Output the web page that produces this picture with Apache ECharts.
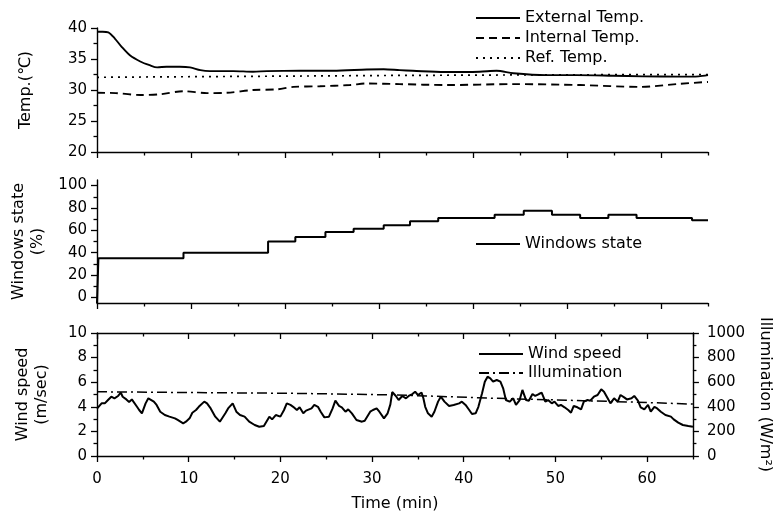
<!DOCTYPE html>
<html><head><meta charset="utf-8">
<script src="https://cdn.jsdelivr.net/npm/echarts@6/dist/echarts.min.js"></script>
<style>html,body{margin:0;padding:0;background:#fff}#c{width:783px;height:518px}</style>
</head><body><div id="c"></div>
<script>
// ---- data ----
const extTime = [0, 0.6, 1.2, 1.9, 2.6, 3.5, 4.6, 5.6, 6.4, 7.4, 8.8, 9.9, 11.0, 12.0, 14.5, 16.6, 18.1, 21.6, 25.1, 28.7, 30.5, 32.2, 33.6, 37.0, 40.7, 42.5, 44.3, 47.8, 51.0, 54.9, 58.0, 62.0, 64.0, 65.0];
const extTemp = [39.4, 39.4, 39.3, 38.3, 37.0, 35.6, 34.6, 34.0, 33.65, 33.75, 33.75, 33.65, 33.2, 33.05, 33.05, 32.95, 33.05, 33.1, 33.1, 33.3, 33.35, 33.2, 33.1, 32.9, 32.95, 33.1, 32.7, 32.4, 32.4, 32.3, 32.2, 32.15, 32.2, 32.4];
const intTime = [0, 2.0, 4.6, 6.7, 9.2, 11.7, 13.8, 16.6, 19.1, 20.9, 23.7, 26.9, 28.7, 32.2, 37.2, 44.3, 51.4, 57.8, 62.0, 65.0];
const intTemp = [29.55, 29.5, 29.2, 29.3, 29.8, 29.5, 29.55, 30.0, 30.1, 30.5, 30.6, 30.8, 31.05, 30.95, 30.8, 30.95, 30.8, 30.5, 31.0, 31.3];
const refTime = [0, 16, 32, 48, 65];
const refTemp = [32.05, 32.2, 32.35, 32.45, 32.5];
const winTime = [0, 0.15, 9.2, 18.2, 21.1, 24.3, 27.3, 30.5, 33.3, 36.3, 42.3, 45.4, 48.4, 51.4, 54.4, 57.4, 63.3, 65];
const winState = [-5, 35, 40, 50, 54, 58.5, 61.5, 64.5, 68, 71, 74, 77.5, 74, 71, 74, 71, 69, 69];
const windTime = [
  0, 0.5, 0.85, 1.2, 1.56, 1.9, 2.3, 2.6, 2.8, 3.2,
  3.5, 3.8, 4.0, 4.4, 4.6, 4.9, 5.3, 5.6, 5.8, 6.2,
  6.5, 6.9, 7.4, 7.9, 8.5, 8.8, 9.4, 9.7, 10.1, 10.4,
  10.8, 11.1, 11.7, 12.0, 12.4, 12.9, 13.4, 14.0, 14.3, 14.8,
  15.2, 15.6, 16.1, 16.6, 17.2, 17.7, 18.2, 18.8, 19.1, 19.5,
  20.0, 20.4, 20.7, 21.1, 21.4, 21.8, 22.1, 22.5, 22.8, 23.4,
  23.7, 24.1, 24.4, 24.8, 25.3, 25.7, 26.0, 26.4, 26.7, 27.1,
  27.4, 27.8, 28.3, 28.9, 29.2, 29.8, 30.1, 30.5, 30.8, 31.3,
  31.7, 32.0, 32.2, 32.6, 32.9, 33.3, 33.7, 34.0, 34.4, 34.7,
  35.0, 35.4, 35.6, 35.8, 36.1, 36.5, 36.8, 37.2, 37.5, 37.9,
  38.4, 38.9, 39.5, 39.8, 40.2, 40.6, 40.9, 41.3, 41.6, 42.0,
  42.3, 42.6, 42.9, 43.2, 43.6, 44.0, 44.3, 44.6, 45.0, 45.4,
  45.7, 46.1, 46.4, 46.8, 47.1, 47.5, 47.8, 48.2, 48.5, 48.9,
  49.2, 49.6, 49.9, 50.3, 50.6, 51.0, 51.4, 51.7, 52.0, 52.4,
  52.8, 53.1, 53.5, 53.8, 54.2, 54.6, 55.0, 55.3, 55.7, 56.0,
  56.4, 56.8, 57.1, 57.5, 57.8, 58.3, 58.6, 59.0, 59.3, 59.7,
  60.1, 60.4, 60.8, 61.1, 61.5, 62.0, 62.6, 62.9, 63.4, 63.9,
  64.5, 65.0];
const windSpeed = [
  3.85, 4.28, 4.28, 4.55, 4.82, 4.69, 4.88, 5.15, 4.82, 4.6,
  4.4, 4.6, 4.5, 3.96, 3.74, 3.47, 4.28, 4.69, 4.77, 4.42,
  4.15, 3.6, 3.33, 3.2, 3.06, 2.93, 2.66, 2.79, 3.06, 3.52,
  3.74, 4.0, 4.42, 4.28, 3.87, 3.2, 2.79, 3.47, 3.87, 4.28,
  3.6, 3.33, 3.2, 2.79, 2.52, 2.38, 2.44, 3.2, 2.98, 3.33,
  3.2, 3.74, 4.28, 4.15, 4.0, 3.74, 3.96, 3.47, 3.69, 3.87,
  4.15, 4.0, 3.6, 3.14, 3.2, 3.87, 4.5, 4.07, 3.96, 3.6,
  3.79, 3.47, 2.93, 2.79, 2.87, 3.6, 3.74, 3.87, 3.6, 3.06,
  3.47, 4.2, 5.2, 4.88, 4.55, 4.88, 4.69, 4.88, 5.04, 5.23,
  4.96, 5.15, 4.69, 4.0, 3.47, 3.2, 3.6, 4.42, 4.82, 4.42,
  4.07, 4.15, 4.28, 4.42, 4.15, 3.74, 3.41, 3.47, 4.0, 5.1,
  6.04, 6.45, 6.31, 6.04, 6.18, 6.04, 5.5, 4.55, 4.42, 4.69,
  4.15, 4.55, 5.37, 4.55, 4.5, 5.04, 4.88, 5.04, 5.15, 4.42,
  4.55, 4.28, 4.42, 4.07, 4.15, 3.96, 3.74, 3.52, 4.07, 3.96,
  3.79, 4.42, 4.55, 4.5, 4.82, 4.96, 5.42, 5.23, 4.69, 4.28,
  4.69, 4.42, 4.96, 4.77, 4.6, 4.69, 4.88, 4.5, 3.96, 3.79,
  4.15, 3.6, 4.0, 3.87, 3.6, 3.33, 3.2, 2.98, 2.71, 2.52,
  2.44, 2.38];
const illumTime = [0, 10, 21, 32, 36, 43, 53, 60, 65];
const illum = [522, 516, 510, 497, 488, 470, 450, 435, 422];

const xMajorTicks = [0, 10, 20, 30, 40, 50, 60];
const xMinorTicks = [5, 15, 25, 35, 45, 55, 65];
const xLabels = [0, 10, 20, 30, 40, 50, 60];
const winTicks = [0, 20, 40, 60, 80, 100];
const winMinorTicks = [10, 30, 50, 70, 90];

// ---- chart ----
const FONT = 'DejaVu Sans';
const BLACK = '#000';
const pairs = (xs, ys) => xs.map((x, i) => [x, ys[i]]);
const lineAx = { show: true, onZero: false, lineStyle: { color: BLACK, width: 1.4 } };
const noLine = { show: false, onZero: false };
const tickStyle = { color: BLACK, width: 1.3 };

function xAxisMajor(gridIndex, extra) {
  return Object.assign({
    type: 'value', gridIndex, min: 0, max: 65, interval: 10, position: 'bottom',
    axisLine: lineAx, splitLine: { show: false },
    axisTick: { show: true, customValues: xMajorTicks, length: 6, lineStyle: tickStyle },
    axisLabel: { show: false }
  }, extra || {});
}
function xAxisMinor(gridIndex, extra) {
  return Object.assign({
    type: 'value', gridIndex, min: 0, max: 65, interval: 10, position: 'bottom',
    axisLine: noLine, splitLine: { show: false },
    axisTick: { show: true, customValues: xMinorTicks, length: 3.5, lineStyle: tickStyle },
    axisLabel: { show: false }
  }, extra || {});
}
const labelStyle = { color: BLACK, fontFamily: FONT, fontSize: 15 };
const nameStyle = { color: BLACK, fontFamily: FONT, fontSize: 16, lineHeight: 19 };
const legendCommon = {
  orient: 'vertical', itemWidth: 44, itemHeight: 12, selectedMode: false,
  itemStyle: { opacity: 0 },
  textStyle: { color: BLACK, fontFamily: FONT, fontSize: 16 }
};

const option = {
  backgroundColor: '#fff',
  animation: false,
  grid: [
    { left: 97, right: 75, top: 28, height: 124 },
    { left: 97, right: 75, top: 180, height: 123 },
    { left: 97, right: 75, top: 333, height: 123 }
  ],
  xAxis: [
    xAxisMajor(0),
    xAxisMinor(0),
    xAxisMajor(1),
    xAxisMinor(1),
    xAxisMajor(2, {
      axisLabel: Object.assign({ show: true, customValues: xLabels, margin: 16 }, labelStyle),
      name: 'Time (min)', nameLocation: 'middle', nameGap: 38, nameTextStyle: nameStyle
    }),
    xAxisMinor(2),
    xAxisMajor(2, { position: 'top', axisTick: { show: true, inside: true, customValues: xMajorTicks, length: 6, lineStyle: tickStyle } }),
    xAxisMinor(2, { position: 'top', axisTick: { show: true, inside: true, customValues: xMinorTicks, length: 3.5, lineStyle: tickStyle } })
  ],
  yAxis: [
    {
      type: 'value', gridIndex: 0, position: 'left', min: 20, max: 40, interval: 5,
      axisLine: lineAx, splitLine: { show: false },
      axisTick: { show: true, length: 6, lineStyle: tickStyle },
      minorTick: { show: true, splitNumber: 2, length: 3.5, lineStyle: tickStyle },
      axisLabel: Object.assign({ margin: 10 }, labelStyle),
      name: 'Temp.(\u2103)', nameLocation: 'middle', nameGap: 62, nameTextStyle: nameStyle
    },
    {
      type: 'value', gridIndex: 1, position: 'left', min: -5, max: 105,
      axisLine: lineAx, splitLine: { show: false },
      axisTick: { show: true, customValues: winTicks, length: 6, lineStyle: tickStyle },
      axisLabel: Object.assign({ margin: 10, customValues: winTicks }, labelStyle),
      name: 'Windows state\n(%)', nameLocation: 'middle', nameGap: 46, nameTextStyle: nameStyle
    },
    {
      type: 'value', gridIndex: 1, position: 'left', min: -5, max: 105,
      axisLine: noLine, splitLine: { show: false },
      axisTick: { show: true, customValues: winMinorTicks, length: 3.5, lineStyle: tickStyle },
      axisLabel: { show: false }
    },
    {
      type: 'value', gridIndex: 2, position: 'left', min: 0, max: 10, interval: 2,
      axisLine: lineAx, splitLine: { show: false },
      axisTick: { show: true, length: 6, lineStyle: tickStyle },
      minorTick: { show: true, splitNumber: 2, length: 3.5, lineStyle: tickStyle },
      axisLabel: Object.assign({ margin: 10 }, labelStyle),
      name: 'Wind speed\n(m/sec)', nameLocation: 'middle', nameGap: 46, nameTextStyle: nameStyle
    },
    {
      type: 'value', gridIndex: 2, position: 'right', min: 0, max: 1000, interval: 200,
      axisLine: lineAx, splitLine: { show: false },
      axisTick: { show: true, length: 6, lineStyle: tickStyle },
      minorTick: { show: true, splitNumber: 2, length: 3.5, lineStyle: tickStyle },
      axisLabel: Object.assign({ margin: 14, formatter: v => String(v) }, labelStyle),
      name: 'Illumination (W/m\u00B2)', nameLocation: 'middle', nameGap: 56, nameRotate: -90, nameTextStyle: nameStyle
    }
  ],
  legend: [
    Object.assign({}, legendCommon, { data: ['External Temp.', 'Internal Temp.', 'Ref. Temp.'], left: 470, top: 5, itemGap: 4 }),
    Object.assign({}, legendCommon, { data: ['Windows state'], left: 470, top: 231 }),
    Object.assign({}, legendCommon, { data: ['Wind speed', 'Illumination'], left: 473, top: 341, itemGap: 3 })
  ],
  series: [
    { name: 'External Temp.', type: 'line', xAxisIndex: 0, yAxisIndex: 0, data: pairs(extTime, extTemp),
      smooth: 0.3, symbol: 'none', lineStyle: { color: BLACK, width: 1.9 }, itemStyle: { color: BLACK } },
    { name: 'Internal Temp.', type: 'line', xAxisIndex: 0, yAxisIndex: 0, data: pairs(intTime, intTemp),
      smooth: 0.3, symbol: 'none', lineStyle: { color: BLACK, width: 1.9, type: [8, 5] }, itemStyle: { color: BLACK } },
    { name: 'Ref. Temp.', type: 'line', xAxisIndex: 0, yAxisIndex: 0, data: pairs(refTime, refTemp),
      symbol: 'none', lineStyle: { color: BLACK, width: 1.7, type: [2, 5] }, itemStyle: { color: BLACK } },
    { name: 'Windows state', type: 'line', xAxisIndex: 2, yAxisIndex: 1, data: pairs(winTime, winState),
      step: 'end', symbol: 'none', lineStyle: { color: BLACK, width: 2 }, itemStyle: { color: BLACK } },
    { name: 'Wind speed', type: 'line', xAxisIndex: 4, yAxisIndex: 3, data: pairs(windTime, windSpeed),
      symbol: 'none', lineStyle: { color: BLACK, width: 2 }, itemStyle: { color: BLACK } },
    { name: 'Illumination', type: 'line', xAxisIndex: 4, yAxisIndex: 4, data: pairs(illumTime, illum),
      symbol: 'none', lineStyle: { color: BLACK, width: 1.5, type: [10, 4, 2, 4] }, itemStyle: { color: BLACK } }
  ]
};
const chart = echarts.init(document.getElementById('c'), null, { renderer: 'canvas' });
chart.setOption(option);
</script>
</body></html>
